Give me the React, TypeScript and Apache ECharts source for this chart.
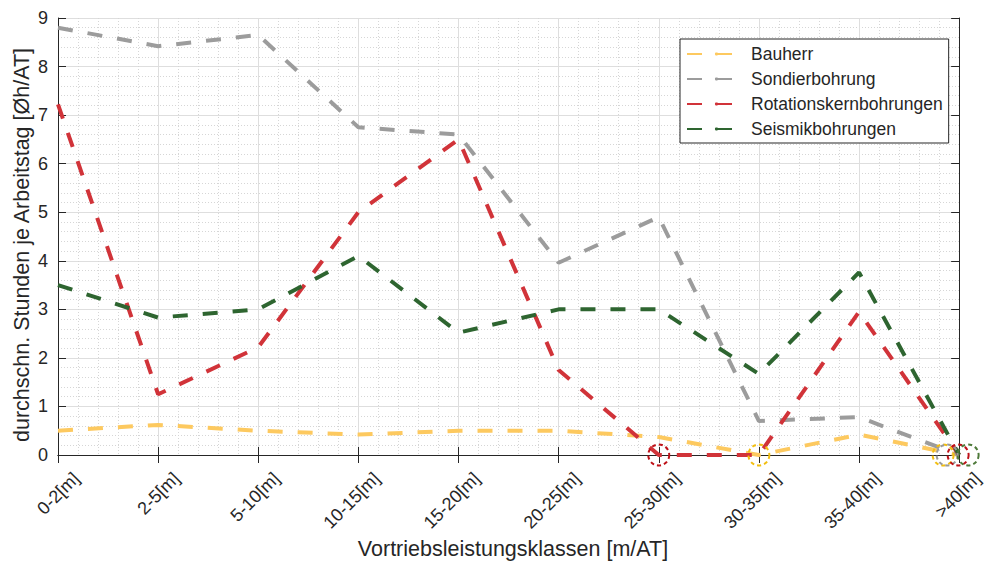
import React, { useEffect, useRef } from "react";
import * as echarts from "echarts";

// Vortriebsleistungsklassen (x categories)
const categories = [
  "0-2[m]", "2-5[m]", "5-10[m]", "10-15[m]", "15-20[m]",
  "20-25[m]", "25-30[m]", "30-35[m]", "35-40[m]", ">40[m]",
];

const yTicks = [0, 1, 2, 3, 4, 5, 6, 7, 8, 9];

// durchschnittliche Stunden je Arbeitstag
const bauherr = [0.5, 0.62, 0.5, 0.42, 0.5, 0.5, 0.37, 0, 0.42, 0];
const sondierbohrung = [8.8, 8.42, 8.65, 6.75, 6.6, 3.96, 4.9, 0.7, 0.78, 0];
const rotationskernbohrungen = [7.22, 1.25, 2.22, 5.0, 6.5, 1.75, 0, 0, 2.95, 0];
const seismikbohrungen = [3.5, 2.83, 3.0, 4.1, 2.52, 3.0, 3.0, 1.67, 3.76, 0];

const seriesNames = ["Bauherr", "Sondierbohrung", "Rotationskernbohrungen", "Seismikbohrungen"];
const seriesData = [bauherr, sondierbohrung, rotationskernbohrungen, seismikbohrungen];
const lineColors = ["#FDC95F", "#9C9C9C", "#D13339", "#2E6530"];
const ringColors = ["#F2BE10", "#9A9A9A", "#BE1118", "#4E7A3A"];

const xTitle = "Vortriebsleistungsklassen [m/AT]";
const yTitle = "durchschn. Stunden je Arbeitstag [Øh/AT]";

// zero values highlighted by a dashed ring: [series index, category index]
const zeroMarks: [number, number][] = [
  [2, 6],
  [0, 7],
  [0, 9],
  [1, 9],
  [2, 9],
  [3, 9],
];

const FONT = "'Liberation Sans', Arial, Helvetica, sans-serif";
const TEXT = "#262626";

export default function App() {
  const ref = useRef<HTMLDivElement>(null);

  useEffect(() => {
    if (!ref.current) return;
    const chart = echarts.init(ref.current, undefined, { renderer: "svg" });

    // rings at x = >40[m] are spread sideways so they stay distinguishable
    const ringShift: Record<string, number> = { "0-9": -16, "1-9": -12, "2-9": -1, "3-9": 9 };

    const lineSeries = seriesNames.map((name, i) => ({
      name,
      type: "line" as const,
      xAxisIndex: 0,
      yAxisIndex: 0,
      data: seriesData[i],
      symbol: "none",
      lineStyle: { color: lineColors[i], width: 4, type: [15, 15] as number[], cap: "butt" as const },
      itemStyle: { color: lineColors[i] },
      z: 3 + i,
    }));

    const ringSeries = zeroMarks.map(([s, c]) => ({
      type: "scatter" as const,
      xAxisIndex: 0,
      yAxisIndex: 0,
      clip: false,
      silent: true,
      z: 10,
      symbol: "circle",
      symbolSize: 21,
      symbolOffset: [ringShift[`${s}-${c}`] ?? 0, 0],
      itemStyle: {
        color: "rgba(0,0,0,0)",
        borderColor: ringColors[s],
        borderWidth: 2,
        borderType: [4, 3] as number[],
        opacity: 1,
      },
      data: [[c, seriesData[s][c]]],
    }));

    chart.setOption({
      animation: false,
      backgroundColor: "#ffffff",
      textStyle: { fontFamily: FONT },
      grid: { left: 58, right: 18, top: 18, bottom: 107, containLabel: false },
      legend: {
        data: seriesNames,
        orient: "vertical",
        left: 680,
        top: 39,
        padding: [5, 6, 4, 6],
        itemWidth: 59,
        itemHeight: 4,
        itemGap: 5,
        backgroundColor: "#ffffff",
        borderColor: TEXT,
        borderWidth: 1,
        textStyle: { fontSize: 17.5, color: TEXT, lineHeight: 20, fontFamily: FONT },
      },
      graphic: [
        {
          type: "text",
          x: 513,
          y: 538,
          style: {
            text: xTitle,
            fontSize: 21.5,
            fontFamily: FONT,
            fill: TEXT,
            align: "center",
            verticalAlign: "top",
          },
        },
        {
          type: "text",
          x: 22,
          y: 245,
          rotation: Math.PI / 2,
          style: {
            text: yTitle,
            fontSize: 21.5,
            fontFamily: FONT,
            fill: TEXT,
            align: "center",
            verticalAlign: "middle",
          },
        },
      ],
      xAxis: [
        {
          type: "category",
          position: "bottom",
          data: categories,
          boundaryGap: false,
          axisLine: { show: true, lineStyle: { color: TEXT, width: 1 } },
          axisTick: { show: true, inside: true, length: 8, lineStyle: { color: TEXT } },
          axisLabel: {
            rotate: 45,
            fontSize: 18,
            color: TEXT,
            margin: 2,
            fontFamily: FONT,
            verticalAlign: "top",
            padding: [17, 0, 0, 0],
          },
          splitLine: { show: false },
        },
        {
          type: "value",
          position: "top",
          min: 0,
          max: 9,
          interval: 1,
          axisLine: { show: true, lineStyle: { color: TEXT, width: 1 } },
          axisTick: { show: true, inside: true, length: 8, lineStyle: { color: TEXT } },
          axisLabel: { show: false },
          splitLine: { show: true, lineStyle: { color: "#dedede", width: 1 } },
          minorTick: { show: false, splitNumber: 5 },
          minorSplitLine: { show: true, lineStyle: { color: "#d6d6d6", width: 1, type: [1, 2] } },
        },
      ],
      yAxis: [
        {
          type: "value",
          position: "left",
          min: 0,
          max: 9,
          interval: 1,
          data: yTicks,
          axisLine: { show: true, lineStyle: { color: TEXT, width: 1 } },
          axisTick: { show: true, inside: true, length: 8, lineStyle: { color: TEXT } },
          axisLabel: { fontSize: 18, color: TEXT, margin: 10, fontFamily: FONT },
          splitLine: { show: true, lineStyle: { color: "#dedede", width: 1 } },
          minorTick: { show: false, splitNumber: 5 },
          minorSplitLine: { show: true, lineStyle: { color: "#d6d6d6", width: 1, type: [1, 2] } },
        },
        {
          type: "value",
          position: "right",
          min: 0,
          max: 9,
          interval: 1,
          axisLine: { show: true, lineStyle: { color: TEXT, width: 1 } },
          axisTick: { show: true, inside: true, length: 8, lineStyle: { color: TEXT } },
          axisLabel: { show: false },
          splitLine: { show: false },
        },
      ],
      series: [...lineSeries, ...ringSeries],
    });

    return () => chart.dispose();
  }, []);

  return (
    <div
      ref={ref}
      style={{ position: "fixed", left: 0, top: 0, width: 986, height: 562 }}
    />
  );
}
